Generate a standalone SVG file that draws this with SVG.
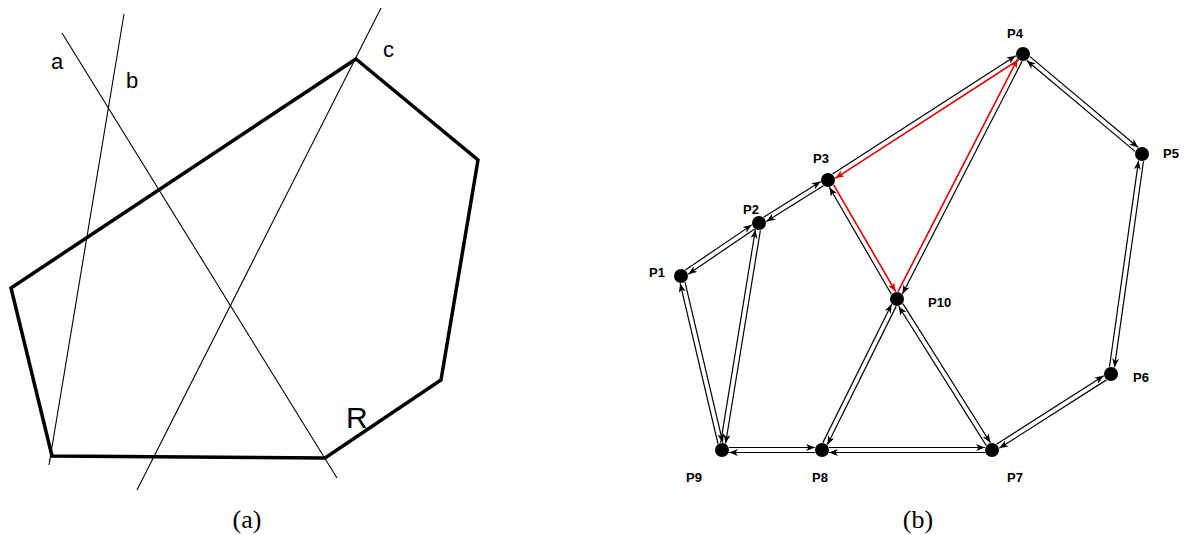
<svg xmlns="http://www.w3.org/2000/svg" width="1189" height="535" viewBox="0 0 1189 535">
<style>
.poly{fill:none;stroke:#000;stroke-width:3.5;stroke-linejoin:miter}
.cut{stroke:#000;stroke-width:1.1;fill:none}
.lbl{font-family:"Liberation Sans",Arial,sans-serif;fill:#000}
.cap{font-family:"Liberation Serif","Times New Roman",serif;font-size:26px;fill:#000}
.plab{font-family:"Liberation Sans",Arial,sans-serif;font-size:13px;font-weight:bold;fill:#000}
.node{fill:#000}
.e{stroke:#000;stroke-width:1.2;fill:none;marker-end:url(#ab)}
.r{stroke:#e00000;stroke-width:1.6;fill:none;marker-end:url(#ar)}
</style>
<defs>
<marker id="ab" markerUnits="userSpaceOnUse" markerWidth="10" markerHeight="8" refX="9" refY="3.5" orient="auto">
<path d="M0,0 L9,3.5 L0,7 L2.5,3.5 z" fill="#000"/>
</marker>
<marker id="ar" markerUnits="userSpaceOnUse" markerWidth="10" markerHeight="8" refX="9" refY="3.5" orient="auto">
<path d="M0,0 L9,3.5 L0,7 L2.5,3.5 z" fill="#e00000"/>
</marker>
</defs>

<g id="part-a">
<polygon class="poly" points="356,59 478,160 441,380 325,458 52,456 11,288"/>
<line class="cut" x1="62" y1="33" x2="337" y2="478"/>
<line class="cut" x1="124" y1="14" x2="49" y2="465"/>
<line class="cut" x1="381" y1="8" x2="137" y2="490"/>
<text class="lbl" x="51" y="69" font-size="22">a</text>
<text class="lbl" x="126" y="88" font-size="22">b</text>
<text class="lbl" x="383" y="57" font-size="22">c</text>
<text class="lbl" x="346" y="428" font-size="30">R</text>
<text class="cap" x="247" y="528" text-anchor="middle">(a)</text>
</g>

<g id="connectors">
<g transform="translate(681,276) rotate(-34.19)"><line class="e" x1="7" y1="-2.5" x2="87.3" y2="-2.5"/><line class="e" x1="87.3" y1="2.5" x2="7" y2="2.5"/></g>
<g transform="translate(759,223) rotate(-31.93)"><line class="e" x1="7" y1="-2.5" x2="74.3" y2="-2.5"/><line class="e" x1="74.3" y1="2.5" x2="7" y2="2.5"/></g>
<g transform="translate(828,180) rotate(-32.87)"><line class="e" x1="7" y1="-2.5" x2="225.2" y2="-2.5"/><line class="r" x1="225.2" y1="2.5" x2="7" y2="2.5"/></g>
<g transform="translate(1023,54) rotate(40.04)"><line class="e" x1="7" y1="-2.5" x2="148.4" y2="-2.5"/><line class="e" x1="148.4" y1="2.5" x2="7" y2="2.5"/></g>
<g transform="translate(1142,154) rotate(98.02)"><line class="e" x1="7" y1="-2.5" x2="215.2" y2="-2.5"/><line class="e" x1="215.2" y1="2.5" x2="7" y2="2.5"/></g>
<g transform="translate(1111,374) rotate(147.43)"><line class="e" x1="7" y1="-2.5" x2="134.2" y2="-2.5"/><line class="e" x1="134.2" y1="2.5" x2="7" y2="2.5"/></g>
<g transform="translate(992,450) rotate(180)"><line class="e" x1="7" y1="-2.5" x2="163" y2="-2.5"/><line class="e" x1="163" y1="2.5" x2="7" y2="2.5"/></g>
<g transform="translate(822,450) rotate(180)"><line class="e" x1="7" y1="-2.5" x2="93" y2="-2.5"/><line class="e" x1="93" y1="2.5" x2="7" y2="2.5"/></g>
<g transform="translate(722,450) rotate(-103.26)"><line class="e" x1="7" y1="-2.5" x2="171.8" y2="-2.5"/><line class="e" x1="171.8" y1="2.5" x2="7" y2="2.5"/></g>
<g transform="translate(722,450) rotate(-80.74)"><line class="e" x1="7" y1="-2.5" x2="223" y2="-2.5"/><line class="e" x1="223" y1="2.5" x2="7" y2="2.5"/></g>
<g transform="translate(828,180) rotate(59.89)"><line class="r" x1="7" y1="-2.5" x2="130.6" y2="-2.5"/><line class="e" x1="130.6" y1="2.5" x2="7" y2="2.5"/></g>
<g transform="translate(897,299) rotate(-62.78)"><line class="r" x1="7" y1="-2.5" x2="268.5" y2="-2.5"/><line class="e" x1="268.5" y1="2.5" x2="7" y2="2.5"/></g>
<g transform="translate(897,299) rotate(116.41)"><line class="e" x1="7" y1="-2.5" x2="161.6" y2="-2.5"/><line class="e" x1="161.6" y1="2.5" x2="7" y2="2.5"/></g>
<g transform="translate(897,299) rotate(57.82)"><line class="e" x1="7" y1="-2.5" x2="171.4" y2="-2.5"/><line class="e" x1="171.4" y1="2.5" x2="7" y2="2.5"/></g>
</g>

<g id="P1"><circle class="node" cx="681" cy="276" r="7"/><text class="plab" x="649" y="277">P1</text></g>
<g id="P2"><circle class="node" cx="759" cy="223" r="7"/><text class="plab" x="743" y="214">P2</text></g>
<g id="P3"><circle class="node" cx="828" cy="180" r="7"/><text class="plab" x="813" y="163">P3</text></g>
<g id="P4"><circle class="node" cx="1023" cy="54" r="7"/><text class="plab" x="1007" y="38">P4</text></g>
<g id="P5"><circle class="node" cx="1142" cy="154" r="7"/><text class="plab" x="1163" y="158">P5</text></g>
<g id="P6"><circle class="node" cx="1111" cy="374" r="7"/><text class="plab" x="1133" y="382">P6</text></g>
<g id="P7"><circle class="node" cx="992" cy="450" r="7"/><text class="plab" x="1007" y="482">P7</text></g>
<g id="P8"><circle class="node" cx="822" cy="450" r="7"/><text class="plab" x="812" y="482">P8</text></g>
<g id="P9"><circle class="node" cx="722" cy="450" r="7"/><text class="plab" x="686" y="482">P9</text></g>
<g id="P10"><circle class="node" cx="897" cy="299" r="7"/><text class="plab" x="928" y="307">P10</text></g>
<text class="cap" x="918" y="528" text-anchor="middle">(b)</text>
</svg>
